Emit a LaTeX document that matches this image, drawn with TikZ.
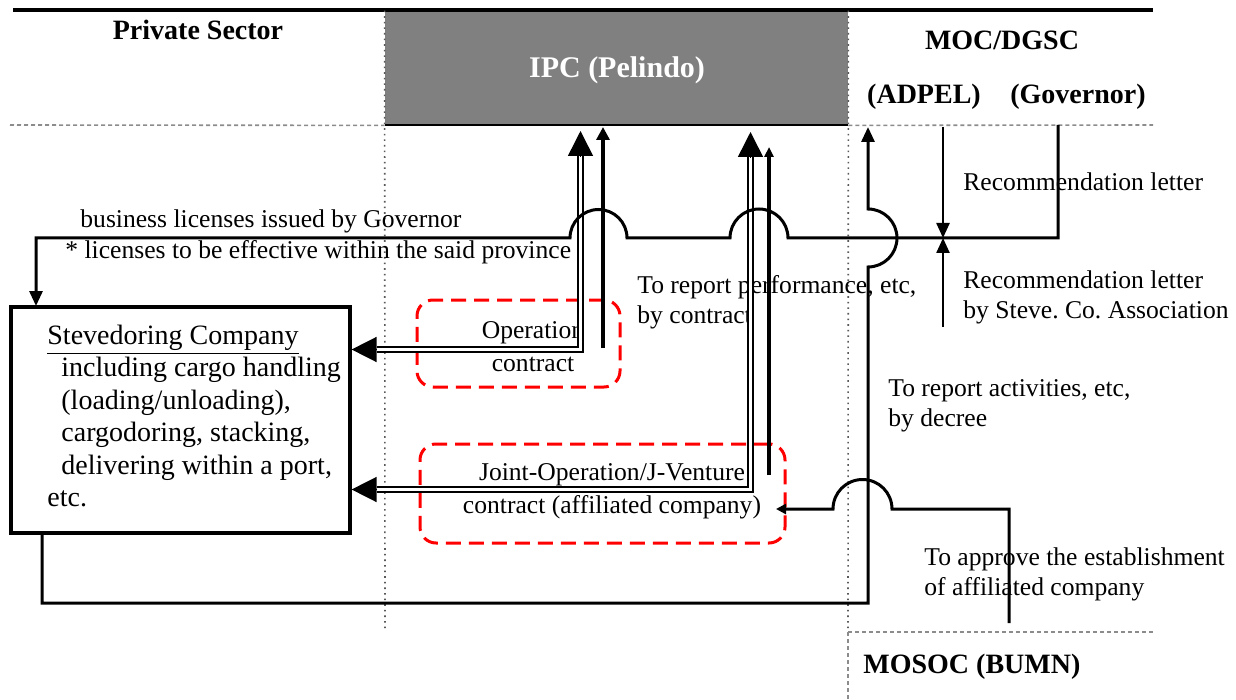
\documentclass[tikz,border=0pt]{standalone}
\usepackage{fontspec}
\setmainfont{Liberation Serif}
\usetikzlibrary{arrows.meta,positioning}
\frenchspacing

\begin{document}
\begin{tikzpicture}[
    x=0.5pt, y=-0.5pt,
    every node/.style={inner sep=0pt},
    lbl/.style={font=\fontsize{12.8}{15}\selectfont, align=left, anchor=west},
    ctr/.style={font=\fontsize{12.8}{16.5}\selectfont, align=center},
    head/.style={font=\fontsize{14}{16}\selectfont\bfseries},
    link/.style={line width=1.5pt},
    heavy/.style={line width=2.2pt},
    dbl/.style={double, double distance=1.7pt, line width=0.75pt},
    tip/.style={-{Triangle[length=7.5pt,width=6.5pt]}},
    bigtip/.style={line width=0.75pt, -{Triangle[length=12.5pt,width=12.5pt]}},
    zone/.style={draw=red, line width=1.5pt, dash pattern=on 7.5pt off 4pt, rounded corners=8pt},
    sep/.style={black!45, line width=0.8pt, dash pattern=on 2pt off 1.5pt},
    col/.style={black!65, line width=0.8pt, dotted}
]
    \useasboundingbox (0,0) rectangle (1236,700);

    % columns
    \node[fill=black!50, minimum width=231.5pt, minimum height=57pt] (ipc) at (616.5,68) {};
    \node[text=white, font=\fontsize{15}{17}\selectfont\bfseries] (ipctxt) at (617,70) {IPC (Pelindo)};
    \draw[line width=1.8pt] (13,10) -- (1153,10);
    \draw[sep] (10,125) -- (ipc.south west);
    \draw[sep] (ipc.south east) -- (1153,125);
    \draw[line width=1pt] (ipc.south west) -- (ipc.south east);
    \draw[col] (ipc.north west) -- (385,632);
    \draw[col] (ipc.north east) -- (848,632);
    \draw[sep] (848,632) -- (1153,632);
    \draw[sep] (848,632) -- (848,700);

    \node[head] (private) at (198,30) {Private Sector};
    \node[head] (moc) at (1002,40) {MOC/DGSC};
    \node[head] (adpel) at (924,97) {(ADPEL)};
    \node[head] (governor) at (1078,97) {(Governor)};
    \node[head, anchor=west] (mosoc) at (863,667) {MOSOC (BUMN)};

    % stevedoring company
    \node[draw, line width=1.6pt, minimum width=169.5pt, minimum height=113pt] (stev) at (180.5,420) {};
    \node[font=\fontsize{14}{16.25}\selectfont, align=left, anchor=west] (stevtxt) at (47,416)
        {\underline{Stevedoring Company}\\
         \hspace*{7pt}including cargo handling\\
         \hspace*{7pt}(loading/unloading),\\
         \hspace*{7pt}cargodoring, stacking,\\
         \hspace*{7pt}delivering within a port,\\
         etc.};

    % contracts
    \node[zone, minimum width=101.5pt, minimum height=43.5pt] (opzone) at (518.5,343.5) {};
    \node[zone, minimum width=182.5pt, minimum height=49.5pt] (jvzone) at (602.5,493.5) {};
    \node[ctr] (optxt) at (533,347) {Operation\\contract};
    \node[ctr] (jvtxt) at (612,491.5) {Joint-Operation/J-Venture\\contract (affiliated company)};

    % labels
    \node[lbl] (biz) at (80,221) {business licenses issued by Governor};
    \node[lbl] (prov) at (65,252) {* licenses to be effective within the said province};
    \node[lbl] (rec1) at (963,182) {Recommendation letter};
    \node[lbl] (rec2) at (963,297.5) {Recommendation letter\\by Steve. Co. Association};
    \node[lbl] (perf) at (637,302.5) {To report performance, etc,\\by contract};
    \node[lbl] (act) at (888,405.5) {To report activities, etc,\\by decree};
    \node[lbl] (appr) at (924,574) {To approve the establishment\\of affiliated company};

    \coordinate (gov) at (1058,125);
    \coordinate (adp) at (868,127);
    \coordinate (bumn) at (1009,623);
    \coordinate (rec) at (943,238);
    \coordinate (opline) at (377,349.5);
    \coordinate (jvline) at (377,489.5);

    % operation contract
    \draw[dbl] (580.5,156) -- (580.5,349.5) -- (opline);
    \draw[bigtip] (580.5,156) -- (580.5,131);
    \draw[bigtip] (opline) -- (stev.east |- opline);
    \draw[heavy, -{Triangle[length=6.5pt,width=6.5pt]}] (603,348) -- (603,127);

    % joint operation
    \draw[dbl] (750.5,156) -- (750.5,489.5) -- (jvline);
    \draw[bigtip] (750.5,157) -- (750.5,132);
    \draw[bigtip] (jvline) -- (stev.east |- jvline);
    \draw[heavy, -{Triangle[length=5pt,width=4.5pt]}] (769,475) -- (769,147);

    % licenses
    \draw[link, tip] (gov) -- (1058,238) -- (788,238)
        arc[start angle=0, end angle=-180, radius=29] -- (627,238)
        arc[start angle=0, end angle=-180, radius=28.5] -- (36,238) -- (36,306);

    % recommendation
    \draw[line width=1.2pt, tip] (943,127) -- (rec);
    \draw[line width=1.2pt, tip] (943,327) -- (rec);

    % report to ADPEL
    \draw[link, tip] (42,533) -- (42,603) -- (868,603) -- (868,267)
        arc[start angle=90, end angle=-90, radius=29] -- (adp);

    % approval
    \draw[link, -{Triangle[length=5pt,width=5pt]}] (bumn) -- (1009,509) -- (892,509)
        arc[start angle=0, end angle=-180, radius=29.5] -- (776,509);
\end{tikzpicture}
\end{document}
